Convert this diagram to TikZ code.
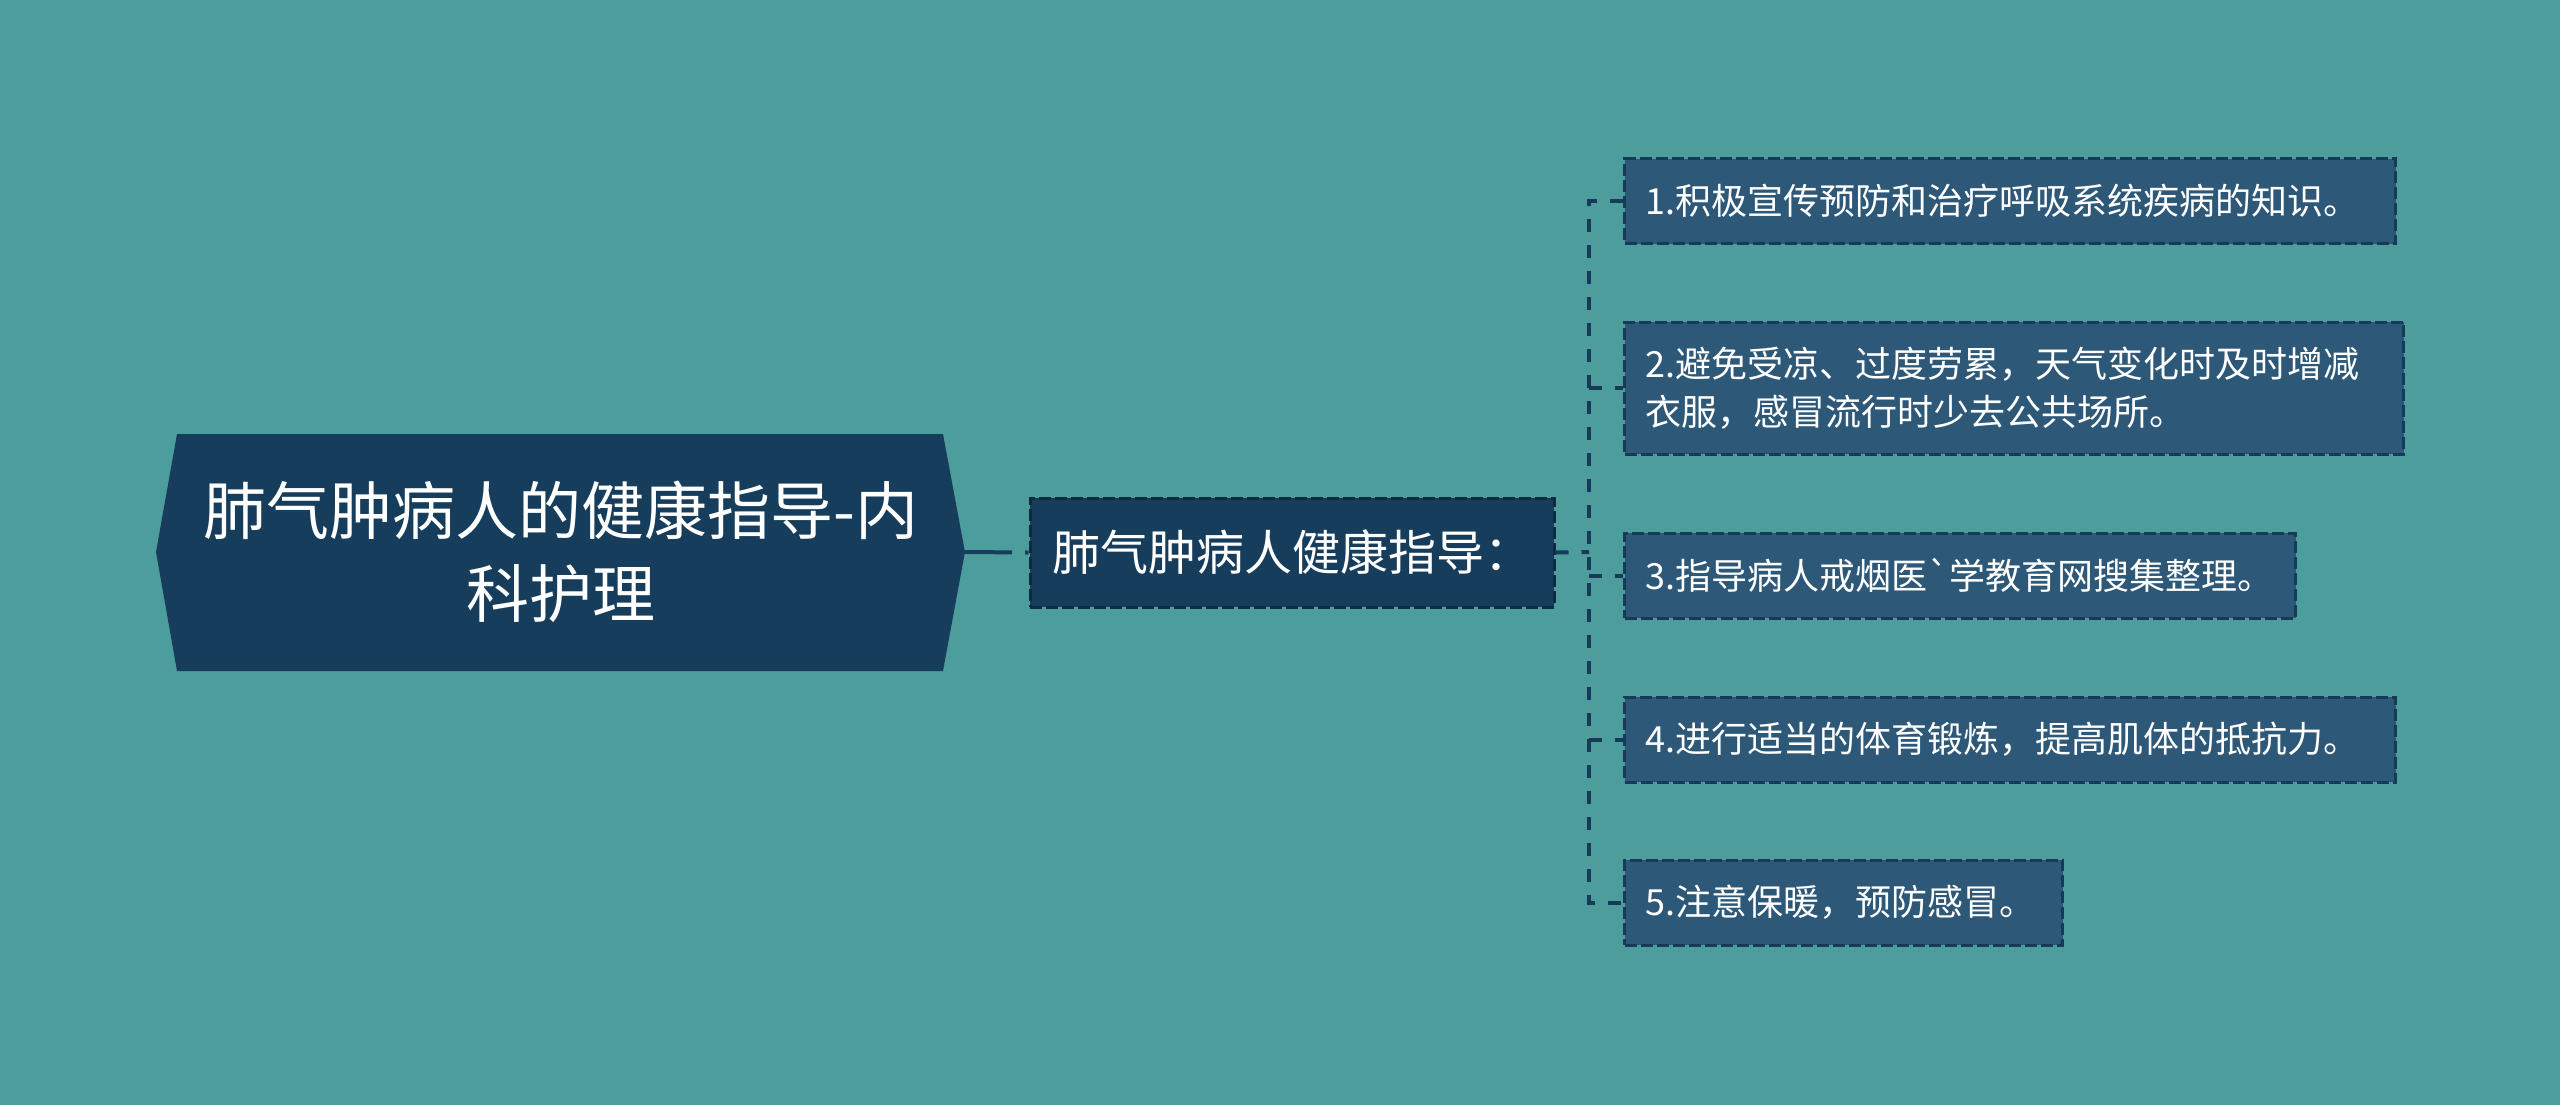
\documentclass[tikz,border=0pt]{standalone}
\usepackage{fontspec}
\newfontfamily\cjk{Noto Sans CJK SC}
\definecolor{bg}{RGB}{78,157,157}
\definecolor{navy}{RGB}{23,61,92}
\definecolor{leaf}{RGB}{46,88,120}
\definecolor{edge}{RGB}{22,58,87}
\definecolor{midedge}{RGB}{14,42,66}
\begin{document}
\begin{tikzpicture}[x=0.5pt,y=-0.5pt,
  conn/.style={draw=edge,line width=2pt,dash pattern=on 6.5pt off 6.5pt},
  leafbox/.style={draw=edge,fill=leaf,line width=1.5pt,dash pattern=on 6pt off 2pt,
    text=white,font=\cjk\fontsize{18pt}{23.7pt}\selectfont,inner xsep=10.5pt,inner ysep=0pt,
    minimum height=42.5pt,align=left,anchor=west},
  midbox/.style={draw=midedge,fill=navy,line width=1.5pt,dash pattern=on 6pt off 2pt,
    text=white,font=\cjk\fontsize{24pt}{30pt}\selectfont,inner sep=0pt,
    minimum width=262pt,minimum height=54.5pt},
  roottext/.style={text=white,font=\cjk\fontsize{31.5pt}{41.5pt}\selectfont,align=center,inner sep=0pt}
]
\fill[bg] (0,0) rectangle (2560,1105);
\useasboundingbox (0,0) rectangle (2560,1105);

% root hexagon
\fill[navy] (156,552) -- (177,434) -- (943,434) -- (965,552) -- (943,671) -- (177,671) -- cycle;
\node[roottext] (root) at (561,552) {肺气肿病人的健康指导-内\\科护理};
\coordinate (rootE) at (965,552);

% middle node
\node[midbox] (mid) at (1292,552.5) {肺气肿病人健康指导：};

% leaves
\node[leafbox,text width=364.5pt] (l1) at (1623,201) {1.积极宣传预防和治疗呼吸系统疾病的知识。};
\node[leafbox,text width=368.5pt,minimum height=66pt] (l2) at (1623,388) {2.避免受凉、过度劳累，天气变化时及时增减\\衣服，感冒流行时少去公共场所。};
\node[leafbox,text width=314.5pt] (l3) at (1623,575.5) {3.指导病人戒烟医`学教育网搜集整理。};
\node[leafbox,text width=364.5pt] (l4) at (1623,739.5) {4.进行适当的体育锻炼，提高肌体的抵抗力。};
\node[leafbox,text width=198pt] (l5) at (1623,902.5) {5.注意保暖，预防感冒。};

% connectors
\coordinate (jn) at (1589,552);
\draw[draw=navy,line width=2pt,dash pattern=on 23.5pt off 6.5pt on 20pt off 0pt] (rootE) -- (mid.west);
\draw[conn] (mid.east) -- (jn);
\draw[conn] (l1.west) -- (jn |- l1.west) -- (jn |- l5.west) -- (l5.west);
\draw[conn] (jn |- l2.west) -- (l2.west);
\draw[conn] (jn |- l3.west) -- (l3.west);
\draw[conn] (jn |- l4.west) -- (l4.west);
\end{tikzpicture}
\end{document}
